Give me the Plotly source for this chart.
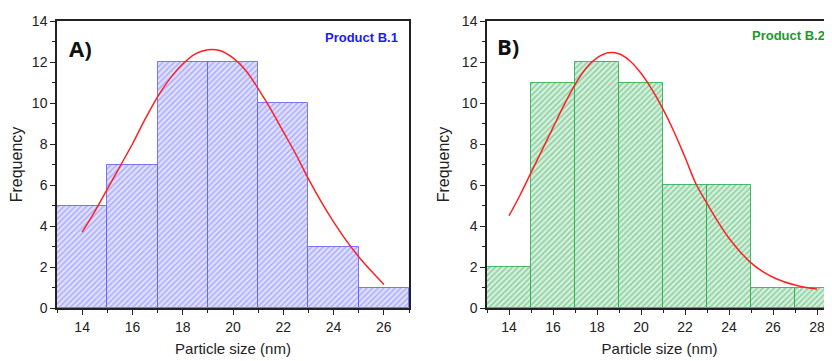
import plotly.graph_objects as go

# ---------------- data ----------------
bin_centers_A = [14, 16, 18, 20, 22, 24, 26]
freq_A = [5, 7, 12, 12, 10, 3, 1]

bin_centers_B = [14, 16, 18, 20, 22, 24, 26, 28]
freq_B = [2, 11, 12, 11, 6, 6, 1, 1]

fit_x_A = [14, 14.5, 15, 15.5, 16, 16.5, 17, 17.5, 18, 18.5, 19, 19.5, 20, 20.5,
           21, 21.5, 22, 22.5, 23, 23.5, 24, 24.5, 25, 25.5, 26]
fit_y_A = [3.7, 4.7, 5.8, 6.9, 8.0, 9.2, 10.3, 11.2, 11.9, 12.4, 12.6, 12.55, 12.2, 11.6,
           10.7, 9.7, 8.6, 7.5, 6.3, 5.2, 4.2, 3.3, 2.5, 1.8, 1.15]

fit_x_B = [14, 14.5, 15, 15.5, 16, 16.5, 17, 17.5, 18, 18.5, 19, 19.5, 20, 20.5,
           21, 21.5, 22, 22.5, 23, 23.5, 24, 24.5, 25, 25.5, 26, 26.5, 27, 27.5, 28]
fit_y_B = [4.5, 5.5, 6.6, 7.7, 8.8, 9.9, 10.9, 11.7, 12.2, 12.45, 12.4, 12.05, 11.45, 10.65,
           9.7, 8.6, 7.35, 6.05, 5.1, 4.2, 3.4, 2.75, 2.2, 1.8, 1.5, 1.28, 1.12, 1.0, 0.93]

bin_width = 2
y_ticks = [0, 2, 4, 6, 8, 10, 12, 14]
x_ticks_A = [14, 16, 18, 20, 22, 24, 26]
x_ticks_B = [14, 16, 18, 20, 22, 24, 26, 28]

# ---------------- figure ----------------
# page has an 8px body margin: figure is drawn 8px in from the top-left corner
OFF = 8
W, H = 832 - OFF, 361 - OFF
FONT = "Liberation Sans, Arial, sans-serif"


def px_x(p):
    return (p - OFF) / W


def px_y(p):
    return 1 - (p - OFF) / H


fig = go.Figure()

fig.add_trace(go.Bar(
    x=bin_centers_A, y=freq_A, width=bin_width,
    marker=dict(color="white",
                line=dict(color="rgba(90,90,255,0.8)", width=1),
                pattern=dict(shape="/", fgcolor="#7b7bff", bgcolor="#e2e2ff",
                             size=4, solidity=0.45, fillmode="overlay")),
    xaxis="x", yaxis="y", showlegend=False))
fig.add_trace(go.Scatter(
    x=fit_x_A, y=fit_y_A, mode="lines", line=dict(color="#ff2020", width=1.5, shape="spline"),
    xaxis="x", yaxis="y", showlegend=False))

fig.add_trace(go.Bar(
    x=bin_centers_B, y=freq_B, width=bin_width,
    marker=dict(color="white",
                line=dict(color="rgba(30,170,70,0.8)", width=1),
                pattern=dict(shape="/", fgcolor="#47b46a", bgcolor="#d8f1de",
                             size=4, solidity=0.45, fillmode="overlay")),
    xaxis="x2", yaxis="y2", showlegend=False))
fig.add_trace(go.Scatter(
    x=fit_x_B, y=fit_y_B, mode="lines", line=dict(color="#ff2020", width=1.5, shape="spline"),
    xaxis="x2", yaxis="y2", showlegend=False))

ydom = [px_y(308), px_y(21)]

common_axis = dict(
    showgrid=False, zeroline=False, showline=True, linecolor="#222", linewidth=1.5,
    ticks="outside", ticklen=5, tickwidth=1.2, tickcolor="#222",
    tickfont=dict(family=FONT, size=14, color="#222"),
    automargin=False,
    minor=dict(ticks="outside", ticklen=3, tickwidth=1, tickcolor="#222", dtick=1),
)

xtitle_font = dict(family=FONT, size=15, color="#222")
ytitle_font = dict(family=FONT, size=16, color="#222")

fig.update_layout(
    width=W, height=H,
    margin=dict(l=0, r=0, t=0, b=0),
    paper_bgcolor="white", plot_bgcolor="white",
    bargap=0,
    xaxis=dict(common_axis, domain=[px_x(57), px_x(409)], range=[13, 27],
               tickvals=x_ticks_A, anchor="y", mirror=True,
               title=dict(text="Particle size (nm)", font=xtitle_font, standoff=10)),
    yaxis=dict(common_axis, domain=ydom, range=[0, 14], tickvals=y_ticks, anchor="x",
               mirror=True,
               title=dict(text="Frequency", font=ytitle_font, standoff=8)),
    xaxis2=dict(common_axis, domain=[px_x(487), 1.0], range=[13, 28.68],
                tickvals=x_ticks_B, anchor="y2", mirror=True,
                title=dict(text="Particle size (nm)", font=xtitle_font, standoff=10)),
    yaxis2=dict(common_axis, domain=ydom, range=[0, 14], tickvals=y_ticks, anchor="x2",
                mirror=True,
                title=dict(text="Frequency", font=ytitle_font, standoff=8)),
    annotations=[
        dict(text="<b>A)</b>", x=px_x(67), y=px_y(48), xref="paper", yref="paper",
             xanchor="left", yanchor="middle", showarrow=False,
             font=dict(family="Open Sans, Liberation Sans, sans-serif", size=22, color="#111")),
        dict(text="<b>B)</b>", x=px_x(495), y=px_y(46), xref="paper", yref="paper",
             xanchor="left", yanchor="middle", showarrow=False,
             font=dict(family="Open Sans, Liberation Sans, sans-serif", size=22, color="#111")),
        dict(text="<b>Product B.1</b>", x=px_x(400), y=px_y(38), xref="paper", yref="paper",
             xanchor="right", yanchor="middle", showarrow=False,
             font=dict(family=FONT, size=13, color="#1a1aff")),
        dict(text="<b>Product B.2</b>", x=px_x(750), y=px_y(35), xref="paper", yref="paper",
             xanchor="left", yanchor="middle", showarrow=False,
             font=dict(family=FONT, size=13, color="#1a9a2a")),
    ],
)

fig.write_html("out.html")
